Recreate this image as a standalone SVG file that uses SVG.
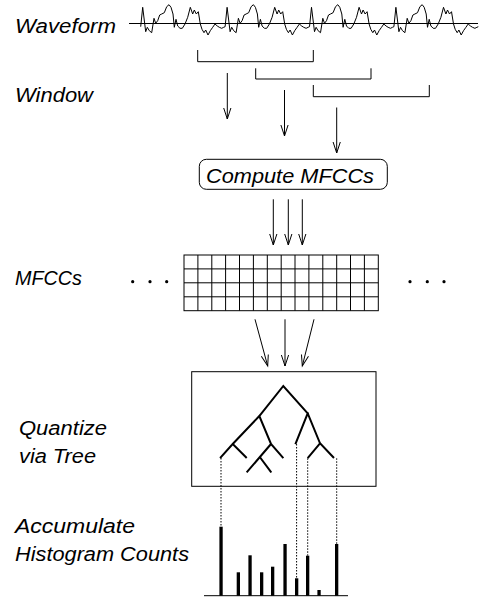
<svg xmlns="http://www.w3.org/2000/svg" xmlns:xlink="http://www.w3.org/1999/xlink" width="486" height="598" viewBox="0 0 486 598">
<style>
.lbl{font-family:"Liberation Sans",Arial,sans-serif;font-style:italic;font-size:20px;fill:#000}
.ln{stroke:#000;stroke-width:1;fill:none}
.tr{stroke:#000;stroke-width:2;fill:none;stroke-linecap:square}
.dot{stroke:#000;stroke-width:1;fill:none;stroke-dasharray:1.5 1.5}
.arr{stroke:#000;stroke-width:1;fill:none;marker-end:url(#ah)}
.bar{fill:#000}
</style>
<defs>
<marker id="ah" markerUnits="userSpaceOnUse" markerWidth="30" markerHeight="30" refX="0" refY="0" orient="auto" overflow="visible">
<path d="M-11,-3.6 L0,0 L-11,3.6" fill="none" stroke="#000" stroke-width="1"/>
</marker>
<path id="per" fill="none" stroke="#000" stroke-width="1" d="M-2,26.7 L0,7.3 L3,31.7 L4.6,27.3 L6.6,30.7 L9,32.7 L11.3,18.3 L13,23.3 L15,20.7 L17,15 L19,14 L21.6,12.7 L24,6.7 L26.3,4.7 L28.3,7.3 L30.3,14 L31.6,27.3 L33.3,19.3 L35,26 L37.3,28.3 L39.6,28.3 L42.3,24 L45,17.3 L47.6,7.3 L50,14 L51.6,10 L53.6,14 L55.6,11.7 L57.6,24 L59.3,29.3 L61.3,32.7 L63,30 L65.3,35 L67.6,30.7 L70,27.3 L72.3,24 L74.6,26 L76.6,27.3 L79,28.3 L81,27.3 L82.4,26.7"/>
</defs>
<rect width="486" height="598" fill="#fff"/>

<g id="labels">
<text class="lbl" x="15" y="33.3" textLength="101" lengthAdjust="spacingAndGlyphs">Waveform</text>
<text class="lbl" x="15" y="101.7" textLength="78" lengthAdjust="spacingAndGlyphs">Window</text>
<text class="lbl" x="15" y="285" textLength="67" lengthAdjust="spacingAndGlyphs">MFCCs</text>
<text class="lbl" x="19" y="435" textLength="88" lengthAdjust="spacingAndGlyphs">Quantize</text>
<text class="lbl" x="19" y="463.3" textLength="77" lengthAdjust="spacingAndGlyphs">via Tree</text>
<text class="lbl" x="15" y="532.7" textLength="120" lengthAdjust="spacingAndGlyphs">Accumulate</text>
<text class="lbl" x="15" y="561" textLength="174" lengthAdjust="spacingAndGlyphs">Histogram Counts</text>
</g>

<g id="waveform">
<line class="ln" x1="129" y1="23.5" x2="478" y2="23.5"/>
<use xlink:href="#per" transform="translate(142.7,0)"/>
<use xlink:href="#per" transform="translate(227.1,0)"/>
<use xlink:href="#per" transform="translate(311.5,0)"/>
<use xlink:href="#per" transform="translate(395.9,0)"/>
</g>

<g id="windows">
<path class="ln" d="M197.7,50 V61.7 H313.3 V50"/>
<path class="ln" d="M255.7,68.3 V79 H371 V68.3"/>
<path class="ln" d="M313.3,85 V96.7 H429.3 V85"/>
</g>

<g id="compute">
<rect class="ln" x="199.3" y="159.3" width="188" height="30" rx="7" ry="7"/>
<text class="lbl" x="206" y="182.5" textLength="168" lengthAdjust="spacingAndGlyphs">Compute MFCCs</text>
</g>

<g id="mfccs">
<rect class="ln" x="184" y="255" width="194.3" height="55.7"/>
<path class="ln" d="M197.9,255V310.7M211.8,255V310.7M225.6,255V310.7M239.5,255V310.7M253.4,255V310.7M267.3,255V310.7M281.2,255V310.7M295,255V310.7M308.9,255V310.7M322.8,255V310.7M336.7,255V310.7M350.5,255V310.7M364.4,255V310.7M184,268.9H378.3M184,282.8H378.3M184,296.8H378.3"/>
<circle cx="132.7" cy="281.7" r="1.6"/>
<circle cx="150" cy="281.7" r="1.6"/>
<circle cx="166.7" cy="281.7" r="1.6"/>
<circle cx="410" cy="281.7" r="1.6"/>
<circle cx="427.3" cy="281.7" r="1.6"/>
<circle cx="444" cy="281.7" r="1.6"/>
</g>

<g id="tree">
<rect class="ln" x="191.7" y="371.7" width="184.3" height="114.6"/>
<path class="tr" d="M259.3,416 L283.3,386 L307.7,413.3 M259.3,416 L232.7,444 L220.7,457.3 M232.7,444 L246,457.3 M259.3,416 L271,444 L282.7,457.3 M271,444 L247.3,471.7 M260,457.3 L270.7,471.7 M307.7,413.3 L295.7,443.3 M307.7,413.3 L320,443.3 L333.3,457.3 M320,443.3 L308.3,457.3"/>
</g>

<g id="histogram">
<line class="ln" x1="204" y1="595.7" x2="348" y2="595.7"/>
<rect class="bar" x="219.4" y="526.7" width="3.3" height="69"/>
<rect class="bar" x="236.7" y="572.3" width="3.3" height="23.4"/>
<rect class="bar" x="248.4" y="555.3" width="3.3" height="40.4"/>
<rect class="bar" x="260" y="572.3" width="3.3" height="23.4"/>
<rect class="bar" x="271" y="566.7" width="3.3" height="29"/>
<rect class="bar" x="283.4" y="544" width="3.3" height="51.7"/>
<rect class="bar" x="295" y="578.3" width="3.3" height="17.4"/>
<rect class="bar" x="306" y="555.7" width="3.3" height="40"/>
<rect class="bar" x="317.4" y="590" width="3.3" height="5.7"/>
<rect class="bar" x="335" y="544" width="3.3" height="51.7"/>
</g>

<g id="connectors">
<line class="arr" x1="227.3" y1="73" x2="227.3" y2="119"/>
<line class="arr" x1="284.5" y1="90" x2="284.5" y2="136"/>
<line class="arr" x1="336.7" y1="107.5" x2="336.7" y2="153"/>
<line class="arr" x1="273.3" y1="199.3" x2="273.3" y2="245"/>
<line class="arr" x1="288.3" y1="199.3" x2="288.3" y2="245"/>
<line class="arr" x1="302.3" y1="199.3" x2="302.3" y2="245"/>
<line class="arr" x1="255" y1="319.3" x2="267.7" y2="366"/>
<line class="arr" x1="285" y1="319.3" x2="285" y2="366"/>
<line class="arr" x1="314" y1="319.3" x2="302.3" y2="366"/>
<line class="dot" x1="221" y1="458" x2="221" y2="526.7"/>
<line class="dot" x1="296.6" y1="444" x2="296.6" y2="578.3"/>
<line class="dot" x1="307.7" y1="458.3" x2="307.7" y2="555.7"/>
<line class="dot" x1="336.7" y1="458.3" x2="336.7" y2="544"/>
</g>
</svg>
